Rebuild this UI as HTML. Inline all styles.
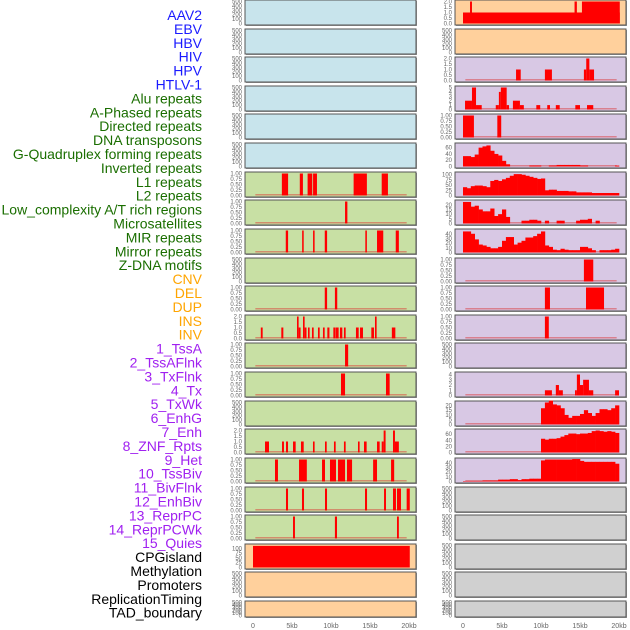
<!DOCTYPE html>
<html><head><meta charset="utf-8"><style>
html,body{margin:0;padding:0;background:#fff;}
svg{display:block;font-family:"Liberation Sans",sans-serif;}
</style></head><body>
<svg id="chart" width="630" height="630" xmlns="http://www.w3.org/2000/svg"></svg>
<script>
// ---- labels ----
const labelTexts = ["AAV2","EBV","HBV","HIV","HPV","HTLV-1","Alu repeats","A-Phased repeats","Directed repeats","DNA transposons","G-Quadruplex forming repeats","Inverted repeats","L1 repeats","L2 repeats","Low_complexity A/T rich regions","Microsatellites","MIR repeats","Mirror repeats","Z-DNA motifs","CNV","DEL","DUP","INS","INV","1_TssA","2_TssAFlnk","3_TxFlnk","4_Tx","5_TxWk","6_EnhG","7_Enh","8_ZNF_Rpts","9_Het","10_TssBiv","11_BivFlnk","12_EnhBiv","13_ReprPC","14_ReprPCWk","15_Quies","CPGisland","Methylation","Promoters","ReplicationTiming","TAD_boundary"];
const labelGroups = [6,13,5,15,5];
const groupColors = ["#1a1aff","#1a6e00","#ffa500","#a020f0","#000000"];
const xTickLabels = ["0","5kb","10kb","15kb","20kb"];
const xTickValues = [0,5,10,15,20];

// ---- left column segment data [startKb,endKb,value] ----
const segL1 = [[3.7,4.5,1],[6.0,6.4,1],[7.0,7.6,1],[7.7,8.2,1],[12.9,14.6,1],[16.5,17.3,1]];
const segL2 = [[11.8,12.1,1]];
const segMicro = [[4.2,4.5,1],[6.3,6.5,1],[7.7,7.9,1],[9.2,9.5,1],[14.4,14.6,1],[15.9,16.7,1],[18.3,18.7,1]];
const segMirror = [[9.2,9.5,1],[10.5,10.8,1]];
const segZDNA = [[1.0,1.24,1],[3.63,3.89,1],[5.64,5.85,2],[5.85,6.1,1],[6.41,6.62,2],[6.62,6.86,1],[7.05,7.26,1],[7.56,7.78,1],[8.33,8.55,1],[8.97,9.19,1],[9.53,9.8,1],[10.3,10.6,1],[10.64,10.98,1],[11.15,11.45,1],[11.66,11.88,1],[13.2,13.55,1],[13.72,14.1,1],[15.17,15.51,1],[15.64,15.85,2],[17.8,18.25,1]];
const segDEL = [[11.8,12.2,1]];
const segDUP = [[11.28,11.8,1],[17.05,17.52,1]];
const segINV = [[1.54,2.05,1],[3.72,3.97,1],[4.23,4.49,1],[5.13,5.47,1],[6.15,6.5,1],[7.69,7.9,1],[9.23,9.45,1],[10.38,10.6,1],[11.66,11.88,1],[13.46,13.67,1],[14.23,14.57,1],[15.9,16.24,1],[16.5,16.75,1],[16.75,17.0,2],[17.95,18.2,2],[18.2,18.7,1]];
const segTssA = [[2.82,3.2,1],[5.9,6.9,1],[8.85,9.23,1],[9.87,10.64,1],[10.9,11.8,1],[12.05,12.7,1],[15.4,15.9,1],[17.7,18.1,1]];
const segTssAFlnk = [[4.23,4.49,1],[6.28,6.54,1],[9.23,9.49,1],[14.36,14.62,1],[16.8,17.05,1],[17.95,18.33,1],[18.46,18.97,1],[19.7,20.1,1]];
const segTxFlnk = [[5.13,5.38,1],[10.5,10.77,1],[18.46,18.7,1]];
const segCPG = [[0,20.1,113]];

// ---- right column segment data ----
const segR0 = [[0,20.1,1],[0.9,1.15,2],[14.3,14.6,2],[15.25,20.1,2]];
const segR2 = [[6.8,7.4,1],[10.5,11.4,1],[15.5,15.8,1],[15.8,16.2,2],[16.2,16.8,1]];
const segR3 = [[0.26,1.15,2],[1.15,1.67,5],[1.67,2.4,1],[4.2,4.6,1],[4.6,4.85,4],[4.85,5.6,5],[5.6,5.9,1],[6.4,7.3,2],[7.3,7.8,1],[9.4,9.9,1],[10.8,11.15,1],[11.9,12.4,1],[14.4,15.0,1],[15.9,16.7,1]];
const segR4 = [[0,1.4,1],[4.4,4.9,1]];
const segR9 = [[15.5,16.7,1]];
const segR10 = [[10.5,11.15,1],[15.77,18.08,1]];
const segR11 = [[10.5,11.0,1]];
const segR13 = [[10.5,11.4,1],[11.9,12.3,2],[12.3,12.8,1],[14.36,14.6,1],[14.6,15.0,4],[15.0,15.4,2],[15.4,16.15,3],[16.15,16.7,1],[19.5,20.0,1]];

// ---- right column binned data (0.5kb bins, 0..20kb) ----
const binR5 = [33,33,30,38,60,64,67,50,40,35,18,7,0,0,0,0,0,3,3,3,0,0,3,3,5,5,5,5,5,5,3,3,0,0,0,0,0,0,0,3];
const binR6 = [40,35,45,48,48,45,40,70,75,70,78,85,95,103,103,100,95,90,85,80,82,25,28,28,22,22,22,20,20,15,15,15,15,12,12,12,12,12,12,12];
const binR7 = [23,23,18,19,15,13,13,16,8,10,15,7,0,0,0,3,3,4,4,3,0,3,0,0,3,3,0,0,0,3,4,4,5,0,3,0,0,0,0,0];
const binR8 = [45,45,40,28,17,15,12,9,9,12,25,33,33,17,21,25,32,32,35,40,45,15,12,6,5,8,6,5,5,5,12,12,9,5,0,5,5,5,6,8];
const binR14 = [0,0,0,0,0,0,0,0,0,0,0,0,0,0,0,0,0,0,0,0,17,23,25,21,20,17,10,7,9,9,11,15,12,9,12,16,16,15,17,20];
const binR15 = [0,0,0,0,0,0,0,0,0,0,0,0,0,0,0,0,0,0,0,0,45,42,45,45,47,52,57,62,62,60,62,62,64,70,72,70,68,70,68,64];
const binR16 = [1,1,1,1,1,2,2,2,2,4,4,4,5,5,3,5,5,6,6,6,45,47,47,47,47,47,47,47,48,48,44,42,42,42,42,42,42,42,42,38];

const t500 = [0,100,200,300,400,500];
const t1 = ["0.00","0.25","0.50","0.75","1.00"];
const t2 = ["0.0","0.5","1.0","1.5","2.0"];
const BLUE="#c8e4ec", GREEN="#c8e0a4", ORANGE="#ffd09c", PURPLE="#d8c8e4", GRAY="#d0d0d0";

const panels = [
 // left column
 {c:0,r:0,bg:BLUE,n:"aav2"},{c:0,r:1,bg:BLUE,n:"ebv"},{c:0,r:2,bg:BLUE,n:"hbv"},{c:0,r:3,bg:BLUE,n:"hiv"},{c:0,r:4,bg:BLUE,n:"hpv"},{c:0,r:5,bg:BLUE,n:"htlv1"},
 {c:0,r:6,bg:GREEN,n:"l1",seg:segL1,ticks:t1,max:1},
 {c:0,r:7,bg:GREEN,n:"l2",seg:segL2,ticks:t1,max:1},
 {c:0,r:8,bg:GREEN,n:"microsatellites",seg:segMicro,ticks:t1,max:1},
 {c:0,r:9,bg:GREEN,n:"mir"},
 {c:0,r:10,bg:GREEN,n:"mirror",seg:segMirror,ticks:t1,max:1},
 {c:0,r:11,bg:GREEN,n:"zdna",seg:segZDNA,ticks:t2,max:2},
 {c:0,r:12,bg:GREEN,n:"del",seg:segDEL,ticks:t1,max:1},
 {c:0,r:13,bg:GREEN,n:"dup",seg:segDUP,ticks:t1,max:1},
 {c:0,r:14,bg:GREEN,n:"ins"},
 {c:0,r:15,bg:GREEN,n:"inv",seg:segINV,ticks:t2,max:2},
 {c:0,r:16,bg:GREEN,n:"tssa",seg:segTssA,ticks:t1,max:1},
 {c:0,r:17,bg:GREEN,n:"tssaflnk",seg:segTssAFlnk,ticks:t1,max:1},
 {c:0,r:18,bg:GREEN,n:"txflnk",seg:segTxFlnk,ticks:t1,max:1},
 {c:0,r:19,bg:ORANGE,n:"cpgisland",seg:segCPG,ticks:["0","25","50","75","100"],tv:[0,25,50,75,100],max:115,nobase:true},
 {c:0,r:20,bg:ORANGE,n:"methylation"},{c:0,r:21,bg:ORANGE,n:"promoters"},
 // right column
 {c:1,r:0,bg:ORANGE,n:"r-aav2",seg:segR0,ticks:t2,max:2,nobase:true},
 {c:1,r:1,bg:ORANGE,n:"r-ebv"},
 {c:1,r:2,bg:PURPLE,n:"r-hiv",seg:segR2,ticks:t2,max:2},
 {c:1,r:3,bg:PURPLE,n:"r-alu",seg:segR3,ticks:["0","1","2","3","4","5"],tv:[0,1,2,3,4,5],max:5},
 {c:1,r:4,bg:PURPLE,n:"r-dna-transposons",seg:segR4,ticks:t1,max:1},
 {c:1,r:5,bg:PURPLE,n:"r-gquad",bins:binR5,ticks:["0","20","40","60"],tv:[0,20,40,60],max:70},
 {c:1,r:6,bg:PURPLE,n:"r-l1",bins:binR6,ticks:["0","25","50","75","100"],tv:[0,25,50,75,100],max:106},
 {c:1,r:7,bg:PURPLE,n:"r-lowcomplex",bins:binR7,ticks:["0","5","10","15","20"],tv:[0,5,10,15,20],max:23.5},
 {c:1,r:8,bg:PURPLE,n:"r-mir",bins:binR8,ticks:["0","10","20","30","40"],tv:[0,10,20,30,40],max:47},
 {c:1,r:9,bg:PURPLE,n:"r-zdna",seg:segR9,ticks:t1,max:1},
 {c:1,r:10,bg:PURPLE,n:"r-del",seg:segR10,ticks:t1,max:1},
 {c:1,r:11,bg:PURPLE,n:"r-dup",seg:segR11,ticks:t1,max:1},
 {c:1,r:12,bg:PURPLE,n:"r-ins"},
 {c:1,r:13,bg:PURPLE,n:"r-tssa",seg:segR13,ticks:["0","1","2","3","4"],tv:[0,1,2,3,4],max:4.2},
 {c:1,r:14,bg:PURPLE,n:"r-txflnk",bins:binR14,ticks:["0","5","10","15","20"],tv:[0,5,10,15,20],max:23},
 {c:1,r:15,bg:PURPLE,n:"r-enhg",bins:binR15,ticks:["0","20","40","60"],tv:[0,20,40,60],max:72},
 {c:1,r:16,bg:PURPLE,n:"r-znf",bins:binR16,ticks:["0","10","20","30","40"],tv:[0,10,20,30,40],max:47},
 {c:1,r:17,bg:GRAY,n:"r-het"},{c:1,r:18,bg:GRAY,n:"r-tssbiv"},{c:1,r:19,bg:GRAY,n:"r-bivflnk"},{c:1,r:20,bg:GRAY,n:"r-enhbiv"},{c:1,r:21,bg:GRAY,n:"r-reprpc"}
];

const NS="http://www.w3.org/2000/svg";
const svg=document.getElementById('chart');
function mk(tag,attrs,parent){const e=document.createElementNS(NS,tag);for(const k in attrs)e.setAttribute(k,attrs[k]);(parent||svg).appendChild(e);return e;}

// labels
let li=0;
labelGroups.forEach((cnt,g)=>{for(let k=0;k<cnt;k++){
  const t=mk('text',{x:202,y:20+li*13.9,'text-anchor':'end','font-size':14,fill:groupColors[g]});
  
  
  t.textContent=labelTexts[li]; li++;}});

const colX=[245,455], colZero=[253,463], KB=7.8, PW=171;
function xScale(c,kb){return colZero[c]+kb*KB;}
function rowTop(r){return Math.round(r*28.62);}
function rowH(r){return r===21?16:25;}

panels.forEach(p=>{
  const top=rowTop(p.r), h=rowH(p.r), x0=colX[p.c];
  const g=mk('g',{});
  
  
  mk('rect',{x:x0+1,y:top+1,width:PW,height:h,fill:'#999'},g);
  mk('rect',{x:x0,y:top,width:PW,height:h,fill:p.bg,stroke:'#555','stroke-width':1},g);
  const y0=top+h-1.5, y1=top+1.5;
  const ticks=p.ticks||t500.map(String);
  const tv=p.tv||(p.ticks?p.ticks.map(Number):t500);
  const max=p.max||500;
  const ys=v=>y0-(v/max)*(y0-y1);
  ticks.forEach((lab,i)=>{
    const t=mk('text',{x:x0-3,y:ys(tv[i])+2,'text-anchor':'end','font-size':6,fill:'#666'},g);
    
    
    t.textContent=lab;});
  if(p.seg||p.bins){
    if(!p.nobase){const b=mk('rect',{x:xScale(p.c,0.3),y:y0-1.5,width:19.4*KB,height:1.5,fill:'rgba(220,40,40,0.45)'},g);
      }
  }
  if(p.seg){p.seg.forEach(s=>{
    const r=mk('rect',{x:xScale(p.c,s[0]),y:ys(s[2]),width:Math.max(1,(s[1]-s[0])*KB),height:y0-ys(s[2]),fill:'#ff0000'},g);
    
    });}
  if(p.bins){p.bins.forEach((v,i)=>{ if(v<=0) return;
    const r=mk('rect',{x:xScale(p.c,i*0.5),y:ys(v),width:0.5*KB+0.3,height:y0-ys(v),fill:'#ff0000'},g);
    
    });}
});

// x axes
[0,1].forEach(c=>{xTickValues.forEach((v,i)=>{
  const t=mk('text',{x:xScale(c,v),y:628,'text-anchor':'middle','font-size':7,fill:'#666'});
  
  
  t.textContent=xTickLabels[i];});});
</script>
</body></html>
